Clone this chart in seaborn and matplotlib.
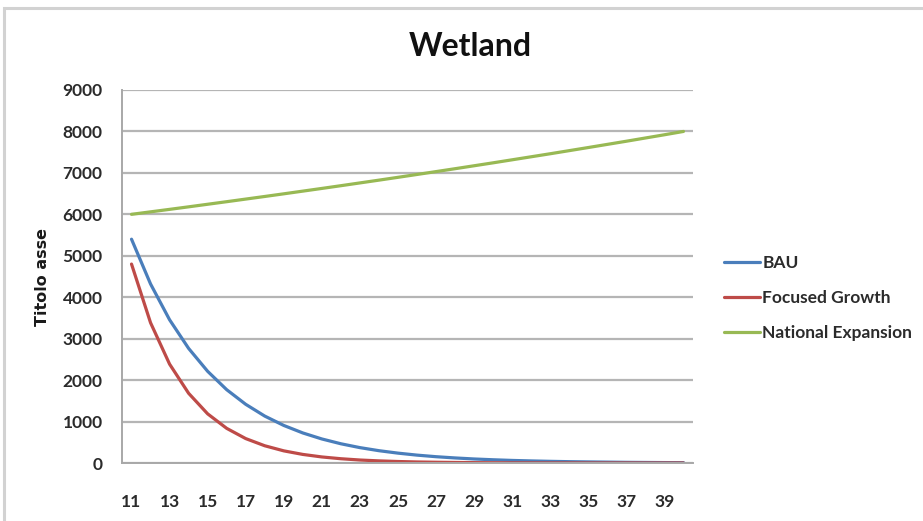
import matplotlib
matplotlib.use("Agg")
import matplotlib.pyplot as plt
import seaborn as sns
import pandas as pd
from matplotlib.patches import Rectangle

# Years on the category axis
years = list(range(11, 41))

# Wetland area per scenario
bau = [5400, 4320, 3456, 2765, 2212, 1769, 1416, 1132, 906, 725,
       580, 464, 371, 297, 238, 190, 152, 122, 97, 78,
       62, 50, 40, 32, 26, 21, 16, 13, 10, 8]
focused_growth = [4800, 3384, 2386, 1682, 1186, 836, 589, 416, 293, 207,
                  146, 103, 72, 51, 36, 25, 18, 13, 9, 6,
                  4, 3, 2, 2, 1, 1, 1, 0, 0, 0]
national_expansion = [6000, 6060, 6120, 6181, 6243, 6305, 6368, 6431, 6495, 6560,
                      6625, 6691, 6758, 6825, 6893, 6962, 7031, 7101, 7172, 7243,
                      7316, 7389, 7462, 7537, 7612, 7688, 7764, 7842, 7920, 8000]

series_names = ["BAU", "Focused Growth", "National Expansion"]
series_colors = ["#4A7EBB", "#BE4B48", "#98B954"]
x_tick_values = list(range(11, 40, 2))
y_tick_values = list(range(0, 9001, 1000))

df = pd.DataFrame({
    "year": years * 3,
    "value": bau + focused_growth + national_expansion,
    "scenario": [series_names[0]] * len(years)
                + [series_names[1]] * len(years)
                + [series_names[2]] * len(years),
})

sns.set_theme(style="white")
plt.rcParams["font.family"] = ["Lato", "DejaVu Sans"]

fig = plt.figure(figsize=(9.23, 5.21), dpi=100)
ax = fig.add_axes([122 / 923, 1 - 463 / 521, (693 - 122) / 923, (463 - 90) / 521])

sns.lineplot(data=df, x="year", y="value", hue="scenario",
             palette=dict(zip(series_names, series_colors)),
             linewidth=2.3, ax=ax)

ax.set_xlim(10.5, 40.5)
ax.set_ylim(0, 9000)
ax.set_xticks(x_tick_values)
ax.set_yticks(y_tick_values)
ax.set_xticklabels([str(v) for v in x_tick_values], fontsize=12.5,
                   fontweight="bold", color="#2b2b2b")
ax.set_yticklabels([str(v) for v in y_tick_values], fontsize=12.5,
                   fontweight="bold", color="#2b2b2b")
ax.tick_params(axis="x", length=0, pad=22)
ax.tick_params(axis="y", length=0, pad=14)

ax.yaxis.grid(True, color="#b5b5b5", linewidth=1.6)
ax.xaxis.grid(False)
ax.set_axisbelow(True)
for side in ["top", "right"]:
    ax.spines[side].set_visible(False)
for side in ["left", "bottom"]:
    ax.spines[side].set_color("#a8a8a8")
    ax.spines[side].set_linewidth(1.4)

ax.set_xlabel("")
ax.set_ylabel("Titolo asse", fontsize=11.5, fontweight="bold", color="#1a1a1a",
              family=["DejaVu Sans"], labelpad=9)

leg = ax.legend(loc="center left", bbox_to_anchor=(724 / 923, 1 - 298 / 521),
                bbox_transform=fig.transFigure, frameon=False,
                fontsize=12.5, handlelength=2.1, handletextpad=0.1,
                labelspacing=1.1, borderaxespad=0, borderpad=0)
for txt in leg.get_texts():
    txt.set_fontweight("bold")
    txt.set_color("#2b2b2b")

fig.text(470 / 923, 1 - 46 / 521, "Wetland", ha="center", va="center",
         fontsize=23, fontweight="bold", color="#111111")

# Light chart-area border
fig.patches.append(Rectangle((4 / 923, -0.05), 1.0, 1 - 8 / 521 + 0.05,
                             transform=fig.transFigure, fill=False,
                             edgecolor="#d2d2d2", linewidth=2.2))

fig.savefig("out.png", dpi=100, facecolor="white")
